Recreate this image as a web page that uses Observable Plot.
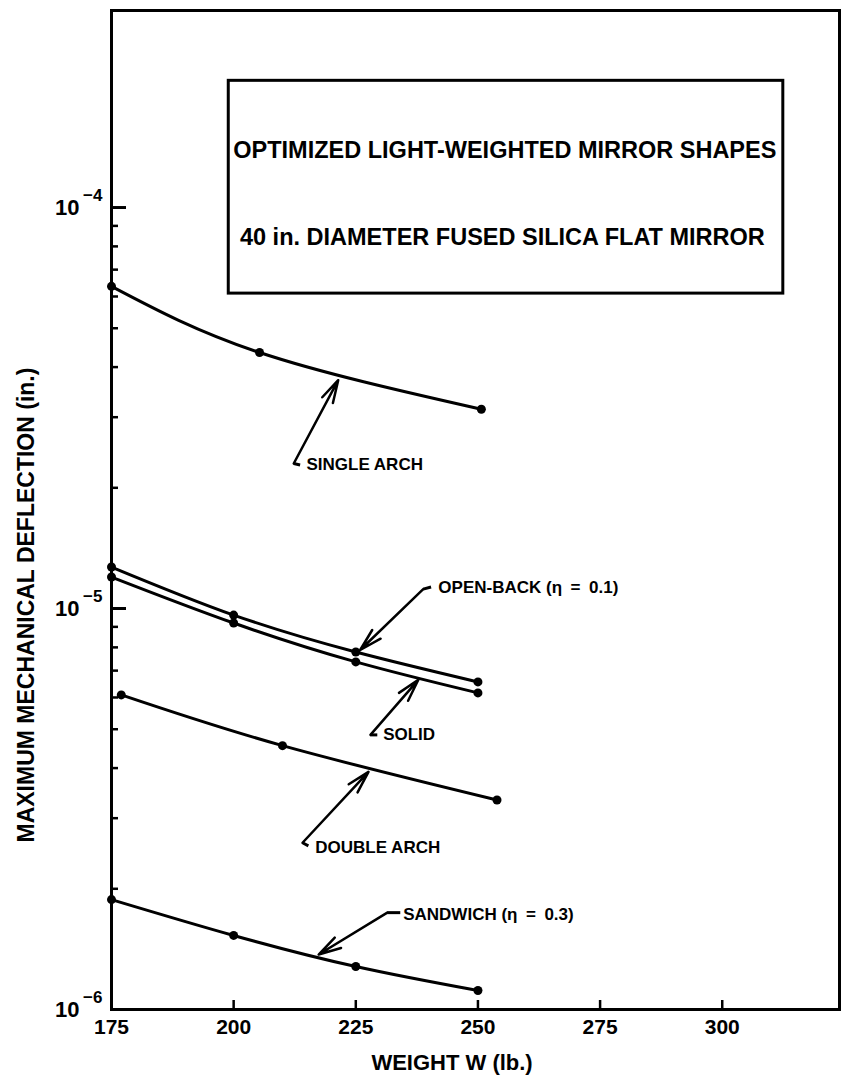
<!DOCTYPE html>
<html><head><meta charset="utf-8">
<script src="https://cdn.jsdelivr.net/npm/d3@7"></script>
<script src="https://cdn.jsdelivr.net/npm/@observablehq/plot@0.6"></script>
<style>
html,body{margin:0;padding:0;background:#fff;}
</style></head><body><div id="chart"></div>
<script>
// ---- axis ticks ----
const weightTicks = [175, 200, 225, 250, 275, 300];
const weightLabels = ["175", "200", "225", "250", "275", "300"];
const decadeTicks = [1e-6, 1e-5, 1e-4];
const decadeExponents = ["−6", "−5", "−4"];
const minorTicks = [2e-6, 3e-6, 4e-6, 5e-6, 6e-6, 7e-6, 8e-6, 9e-6,
                    2e-5, 3e-5, 4e-5, 5e-5, 6e-5, 7e-5, 8e-5, 9e-5];

// ---- series (weight lb, max deflection in.) ----
const singleArchW = [175, 205.3, 250.7];
const singleArchD = [6.36e-5, 4.35e-5, 3.14e-5];
const openBackW = [175, 200, 225, 250];
const openBackD = [1.269e-5, 9.63e-6, 7.79e-6, 6.56e-6];
const solidW = [175, 200, 225, 250];
const solidD = [1.198e-5, 9.20e-6, 7.36e-6, 6.16e-6];
const doubleArchW = [177, 210, 253.9];
const doubleArchD = [6.09e-6, 4.55e-6, 3.33e-6];
const sandwichW = [175, 200, 225, 250];
const sandwichD = [1.88e-6, 1.53e-6, 1.28e-6, 1.115e-6];

const seriesNames = ["SINGLE ARCH", "OPEN-BACK", "SOLID", "DOUBLE ARCH", "SANDWICH"];
const seriesW = [singleArchW, openBackW, solidW, doubleArchW, sandwichW];
const seriesD = [singleArchD, openBackD, solidD, doubleArchD, sandwichD];

// ---- texts ----
const titleLines = ["OPTIMIZED LIGHT-WEIGHTED MIRROR SHAPES", "40 in. DIAMETER FUSED SILICA FLAT MIRROR"];
const xTitle = "WEIGHT W (lb.)";
const yTitle = "MAXIMUM MECHANICAL DEFLECTION (in.)";

// callout labels with arrow geometry in data units
const callouts = [
  {label: "SINGLE ARCH", hx: 221.4, hy: 3.71e-5, tx: 212.3, ty: 2.30e-5, kx: 213.6, ky: 2.28e-5, lx: 214.9, ly: 2.28e-5},
  {label: "OPEN-BACK (η\u2002=\u20020.1)", hx: 225.9, hy: 7.88e-6, tx: 238.8, ty: 1.118e-5, kx: 240.4, ky: 1.131e-5, lx: 241.9, ly: 1.125e-5},
  {label: "SOLID", hx: 237.8, hy: 6.64e-6, tx: 228.0, ty: 4.84e-6, kx: 229.4, ky: 4.84e-6, lx: 230.6, ly: 4.84e-6},
  {label: "DOUBLE ARCH", hx: 227.6, hy: 3.915e-6, tx: 214.1, ty: 2.605e-6, kx: 215.3, ky: 2.56e-6, lx: 216.7, ly: 2.53e-6},
  {label: "SANDWICH (η\u2002=\u20020.3)", hx: 217.4, hy: 1.371e-6, tx: 231.45, ty: 1.744e-6, kx: 234.1, ky: 1.744e-6, lx: 234.7, ly: 1.724e-6}
];

// ---- build table ----
const rows = [];
seriesNames.forEach((name, s) => {
  seriesW[s].forEach((w, i) => rows.push({series: name, w, d: seriesD[s][i]}));
});

const W = 843, H = 1078;
const mL = 111, mR = 4, mT = 10, mB = 69;
const plotW = W - mL - mR, plotH = H - mT - mB;
const font = "'Liberation Sans', Arial, Helvetica, sans-serif";

const titleBox = [{x1: 199.0, x2: 312.5, y1: 6.1e-5, y2: 2.07e-4}];
const titleText = [
  {t: titleLines[0], x: 255.5, y: 1.39e-4},
  {t: titleLines[1], x: 255.0, y: 8.4e-5}
];

const chart = Plot.plot({
  width: W, height: H,
  marginLeft: mL, marginRight: mR, marginTop: mT, marginBottom: mB,
  style: {fontFamily: font, background: "white", color: "black"},
  x: {domain: [175, 324]},
  y: {type: "log", domain: [1e-6, 3.1e-4]},
  marks: [
    Plot.frame({strokeWidth: 3}),
    Plot.tickY(decadeTicks, {y: d => d, insetRight: plotW - 15, strokeWidth: 3}),
    Plot.tickY(minorTicks, {y: d => d, insetRight: plotW - 7, strokeWidth: 2.5}),
    Plot.tickX(weightTicks.slice(1), {x: d => d, insetTop: plotH - 9, strokeWidth: 2.5}),
    Plot.axisX(weightTicks, {tickSize: 0, tickPadding: 10, fontSize: 21, fontWeight: "bold",
      tickFormat: d => weightLabels[weightTicks.indexOf(d)], label: null}),
    Plot.axisY(decadeTicks, {tickSize: 0, tickPadding: 32, fontSize: 22, fontWeight: "bold",
      tickFormat: () => "10", label: null}),
    Plot.axisY(decadeTicks, {tickSize: 0, tickPadding: 9, fontSize: 17, fontWeight: "bold", dy: -12,
      tickFormat: d => decadeExponents[decadeTicks.indexOf(d)], label: null}),
    // title box
    Plot.rect(titleBox, {x1: "x1", x2: "x2", y1: "y1", y2: "y2", fill: "white", stroke: "black", strokeWidth: 3}),
    Plot.text(titleText, {x: "x", y: "y", text: "t", fontSize: 23.5, fontWeight: "bold"}),
    // curves
    Plot.line(rows, {x: "w", y: "d", z: "series", curve: "natural", strokeWidth: 3}),
    Plot.dot(rows, {x: "w", y: "d", r: 4.5, fill: "black"}),
    // callouts
    Plot.arrow(callouts, {x1: "tx", y1: "ty", x2: "hx", y2: "hy", strokeWidth: 2.5, headLength: 14, headAngle: 30}),
    Plot.link(callouts, {x1: "tx", y1: "ty", x2: "kx", y2: "ky", strokeWidth: 3}),
    Plot.text(callouts, {x: "lx", y: "ly", text: "label", textAnchor: "start", fontSize: 17, fontWeight: "bold"}),
    // axis titles
    Plot.text([xTitle], {text: d => d, x: () => 244.7, frameAnchor: "bottom", lineAnchor: "middle", textAnchor: "middle",
      dy: 53, fontSize: 22, fontWeight: "bold"}),
    Plot.text([yTitle], {text: d => d, y: () => 1.02e-5, frameAnchor: "left", textAnchor: "middle", lineAnchor: "middle",
      dx: -85, rotate: -90, fontSize: 23, fontWeight: "bold"})
  ]
});
document.getElementById("chart").appendChild(chart);
</script>
</body></html>
